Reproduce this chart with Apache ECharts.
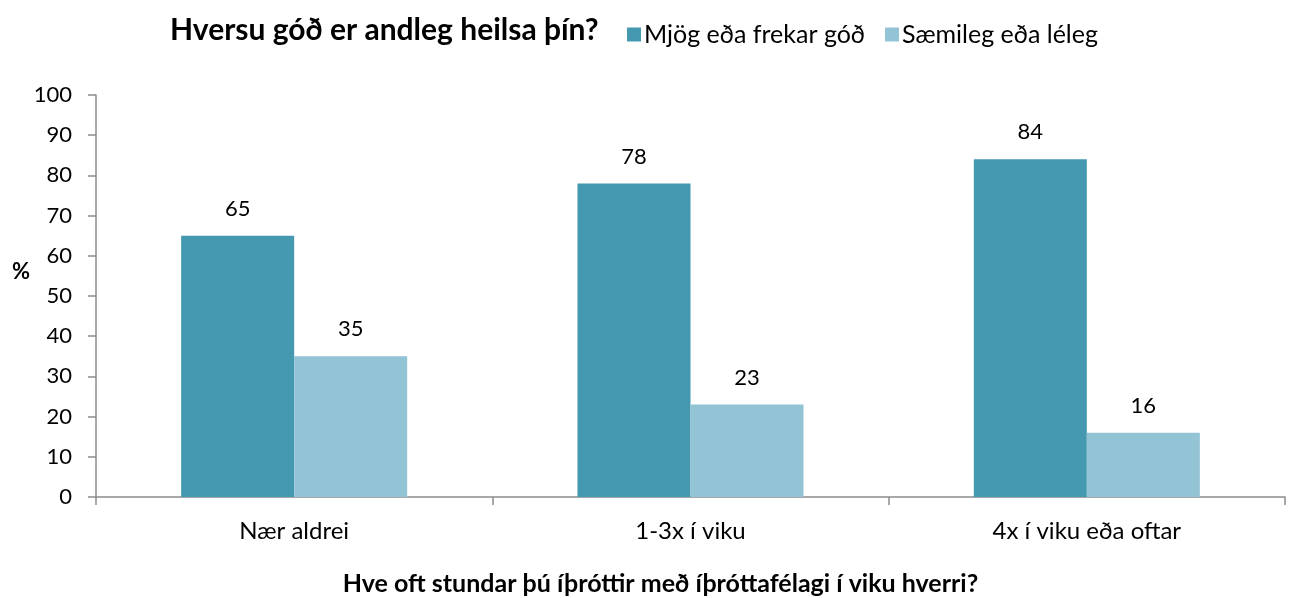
<!DOCTYPE html>
<html>
<head>
<meta charset="utf-8">
<script src="https://cdn.jsdelivr.net/npm/echarts@6/dist/echarts.min.js"></script>
<style>
  html, body { margin: 0; padding: 0; background: #fff; }
  #chart { width: 1292px; height: 598px; }
</style>
</head>
<body>
<div id="chart"></div>
<script>
// Frequency of sports-club participation per week
const categories = ['Nær aldrei', '1-3x í viku', '4x í viku eða oftar'];
// Share (%) rating their mental health as good / fair-poor
const goodValues = [65, 78, 84];
const fairPoorValues = [35, 23, 16];
const seriesNames = ['Mjög eða frekar góð', 'Sæmileg eða léleg'];
const yTicks = { min: 0, max: 100, interval: 10 };
const yAxisTitle = '%';

const FONT = 'Lato, "Noto Sans", sans-serif';
const axisGray = '#8c8c8c';

const chart = echarts.init(document.getElementById('chart'), null, { renderer: 'canvas' });

chart.setOption({
  animation: false,
  backgroundColor: '#fff',
  textStyle: { fontFamily: FONT, color: '#000' },
  title: {
    text: 'Hversu góð er andleg heilsa þín?',
    left: 165,
    top: 10,
    textStyle: { fontFamily: FONT, fontSize: 30, fontWeight: 'bold', color: '#000' }
  },
  legend: {
    data: seriesNames,
    left: 622,
    top: 17,
    itemWidth: 14,
    itemHeight: 14,
    itemGap: 20,
    icon: 'rect',
    textStyle: { fontFamily: FONT, fontSize: 25, color: '#000', padding: [0, 0, 0, -2] }
  },
  // y-axis caption, placed beside the axis a little above its middle
  graphic: [{
    type: 'text',
    left: 12,
    top: 261,
    style: { text: yAxisTitle, font: 'bold 22px ' + FONT, fill: '#000' }
  }],
  grid: { left: 96, right: 7, top: 95, bottom: 101, containLabel: false, outerBoundsMode: 'none' },
  xAxis: {
    type: 'category',
    data: categories,
    name: 'Hve oft stundar þú íþróttir með íþróttafélagi í viku hverri?',
    nameLocation: 'middle',
    nameGap: 74,
    nameTextStyle: { fontFamily: FONT, fontSize: 25, fontWeight: 'bold', color: '#000', padding: [0, 60, 0, 0] },
    axisLine: { lineStyle: { color: axisGray, width: 1.5 } },
    axisTick: { show: true, length: 8, lineStyle: { color: axisGray, width: 1.5 } },
    axisLabel: { fontFamily: FONT, fontSize: 24, color: '#000', margin: 22 }
  },
  yAxis: {
    type: 'value',
    min: yTicks.min,
    max: yTicks.max,
    interval: yTicks.interval,
    axisLine: { show: true, lineStyle: { color: axisGray, width: 1.5 } },
    axisTick: { show: true, length: 8, lineStyle: { color: axisGray, width: 1.5 } },
    splitLine: { show: false },
    axisLabel: { fontFamily: FONT, fontSize: 22, color: '#000', margin: 24 }
  },
  series: [
    {
      name: seriesNames[0],
      type: 'bar',
      data: goodValues,
      barWidth: 113,
      barGap: '0%',
      itemStyle: { color: '#4499b0' },
      label: { show: true, position: 'top', distance: 16, fontFamily: FONT, fontSize: 22, color: '#000' }
    },
    {
      name: seriesNames[1],
      type: 'bar',
      data: fairPoorValues,
      barWidth: 113,
      barGap: '0%',
      itemStyle: { color: '#93c4d6' },
      label: { show: true, position: 'top', distance: 16, fontFamily: FONT, fontSize: 22, color: '#000' }
    }
  ]
});
</script>
</body>
</html>
